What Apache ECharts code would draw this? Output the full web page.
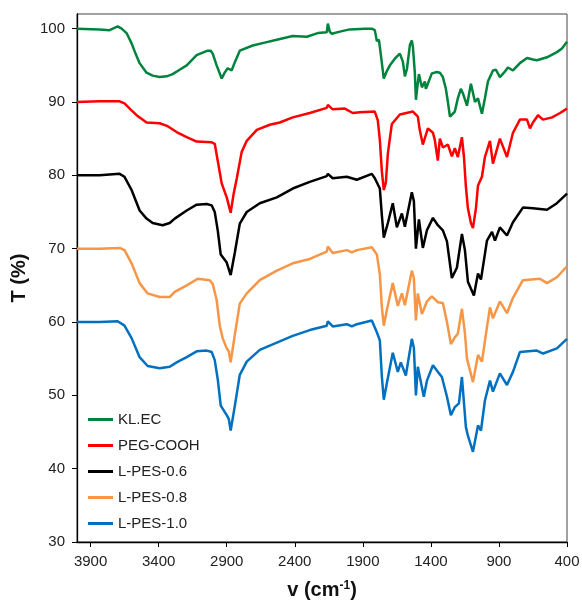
<!DOCTYPE html>
<html>
<head>
<meta charset="utf-8">
<script src="https://cdn.jsdelivr.net/npm/echarts@6/dist/echarts.min.js"></script>
<style>
  html, body { margin: 0; padding: 0; background: #fff; }
  #chart { width: 582px; height: 604px; }
</style>
</head>
<body>
<div id="chart"></div>
<script>
  // FTIR spectra, [wavenumber (cm-1), transmittance (%)]
  var seriesNames = ['KL.EC', 'PEG-COOH', 'L-PES-0.6', 'L-PES-0.8', 'L-PES-1.0'];
  var seriesColors = ['#00843d', '#ff0000', '#000000', '#f79646', '#0070c0'];

  var xTicks = [400, 900, 1400, 1900, 2400, 2900, 3400, 3900];
  var yTicks = [30, 40, 50, 60, 70, 80, 90, 100];

  var klec = [
    [4000,100.0],[3834,99.9],[3760,99.8],[3701,100.3],[3672,100.0],[3636,99.4],[3599,98.0],[3570,96.6],
    [3540,95.3],[3489,94.0],[3444,93.6],[3393,93.4],[3341,93.5],[3297,93.8],[3246,94.4],[3194,95.0],
    [3121,96.4],[3040,97.0],[3018,97.0],[3003,96.6],[2974,95.0],[2937,93.2],[2915,94.0],[2893,94.6],
    [2864,94.3],[2841,95.4],[2804,97.0],[2709,97.7],[2621,98.1],[2532,98.5],[2415,99.0],[2312,98.9],
    [2231,99.4],[2165,99.5],[2157,100.7],[2143,99.6],[2128,99.3],[2069,99.6],[1996,99.9],[1885,100.0],
    [1834,100.0],[1812,99.8],[1797,98.3],[1782,98.5],[1768,96.5],[1746,93.2],[1724,94.2],[1701,95.0],
    [1665,95.9],[1628,96.6],[1606,95.5],[1591,93.5],[1576,94.5],[1554,97.8],[1540,98.4],[1532,97.5],
    [1518,94.0],[1510,90.3],[1503,91.5],[1488,93.8],[1466,92.0],[1444,92.8],[1437,91.8],[1422,92.5],
    [1393,93.9],[1356,94.1],[1334,94.0],[1312,93.4],[1290,91.8],[1275,90.0],[1260,88.0],[1246,88.2],
    [1224,88.7],[1202,90.5],[1180,91.8],[1165,91.2],[1135,89.5],[1106,92.5],[1076,90.0],[1054,90.5],
    [1025,88.4],[1003,90.5],[981,92.8],[944,94.3],[922,94.4],[893,93.4],[863,94.0],[834,94.7],
    [797,94.3],[746,95.3],[694,96.0],[650,95.8],[621,95.7],[547,96.1],[474,96.8],[437,97.3],[400,98.2]
  ];

  var pegCooh = [
    [4000,90.0],[3834,90.1],[3687,90.1],[3651,89.8],[3607,89.0],[3562,88.2],[3489,87.2],[3393,87.1],
    [3334,86.7],[3268,85.9],[3194,85.2],[3121,84.6],[3010,84.5],[2988,84.3],[2966,82.0],[2937,78.9],
    [2900,77.0],[2871,74.9],[2849,77.5],[2827,79.5],[2790,83.2],[2753,84.7],[2679,86.2],[2584,86.9],
    [2510,87.2],[2415,87.9],[2290,88.5],[2165,89.2],[2157,89.6],[2121,89.0],[2032,89.1],[1974,88.5],
    [1922,88.6],[1812,88.7],[1790,87.5],[1775,84.8],[1760,80.5],[1746,78.0],[1731,79.0],[1716,83.0],
    [1687,87.0],[1628,88.3],[1532,88.7],[1496,88.0],[1481,86.1],[1459,84.2],[1422,86.4],[1385,85.8],
    [1371,84.8],[1349,82.0],[1334,85.0],[1312,83.8],[1275,84.2],[1246,82.6],[1224,83.7],[1202,82.5],
    [1172,85.2],[1157,82.5],[1143,78.5],[1128,75.5],[1106,73.5],[1091,72.8],[1069,75.5],[1054,78.6],
    [1025,79.8],[1003,82.5],[966,84.7],[944,81.6],[893,85.0],[841,82.5],[797,85.8],[746,87.6],
    [694,87.6],[672,86.4],[650,87.2],[613,88.2],[576,87.6],[510,87.9],[451,88.5],[400,89.1]
  ];

  var lpes06 = [
    [4000,80.0],[3834,80.0],[3687,80.2],[3651,79.8],[3599,78.0],[3540,75.2],[3489,74.1],[3444,73.5],
    [3371,73.2],[3319,73.5],[3282,74.1],[3194,75.2],[3121,76.0],[3047,76.1],[3010,75.9],[2988,75.0],
    [2966,72.5],[2944,69.2],[2900,68.1],[2871,66.4],[2841,69.4],[2804,73.4],[2753,75.0],[2657,76.2],
    [2532,77.0],[2415,78.2],[2290,79.1],[2165,79.9],[2157,80.2],[2121,79.6],[2018,79.8],[1944,79.4],
    [1834,80.2],[1812,79.6],[1775,78.2],[1760,74.5],[1746,71.5],[1716,73.5],[1680,76.2],[1650,72.9],
    [1613,74.8],[1591,73.0],[1540,77.7],[1525,76.5],[1510,70.0],[1488,74.0],[1459,70.1],[1429,72.5],
    [1385,74.2],[1349,73.2],[1312,72.5],[1282,71.0],[1246,66.0],[1209,67.4],[1172,72.0],[1150,69.8],
    [1128,65.5],[1084,63.6],[1054,66.6],[1032,65.8],[988,71.1],[951,72.3],[929,71.1],[893,72.9],
    [841,71.8],[797,73.6],[724,75.6],[650,75.5],[547,75.3],[474,76.2],[400,77.5]
  ];

  var lpes08 = [
    [4000,70.0],[3834,70.0],[3687,70.1],[3651,69.8],[3599,68.0],[3540,65.3],[3481,63.9],[3393,63.4],
    [3319,63.4],[3282,64.1],[3194,65.0],[3113,65.9],[3025,65.7],[3003,65.2],[2974,63.0],[2951,59.5],
    [2930,57.8],[2900,56.4],[2885,56.0],[2871,54.5],[2841,58.2],[2804,62.5],[2753,63.9],[2657,65.7],
    [2532,67.0],[2415,68.0],[2290,68.6],[2165,69.6],[2157,70.3],[2121,69.4],[2018,69.8],[1981,69.5],
    [1944,69.8],[1834,70.2],[1797,69.2],[1775,66.5],[1760,62.0],[1746,59.5],[1724,61.6],[1680,65.3],
    [1643,62.2],[1613,63.9],[1591,62.3],[1540,67.0],[1525,66.0],[1510,60.2],[1496,63.9],[1466,61.1],
    [1429,62.8],[1393,63.5],[1349,62.7],[1312,62.6],[1282,60.0],[1253,57.0],[1224,57.9],[1202,58.4],
    [1172,61.8],[1150,58.5],[1135,55.0],[1091,51.8],[1054,55.5],[1025,54.6],[988,59.3],[966,62.0],
    [944,60.5],[893,62.8],[841,61.2],[797,63.3],[724,65.7],[599,65.9],[547,65.3],[474,66.1],[400,67.6]
  ];

  var lpes10 = [
    [4000,60.0],[3834,60.0],[3701,60.1],[3651,59.5],[3599,57.8],[3540,55.2],[3481,54.0],[3393,53.7],
    [3319,53.9],[3268,54.5],[3194,55.2],[3121,56.0],[3047,56.1],[3010,55.9],[2988,54.8],[2966,52.2],
    [2944,48.6],[2900,47.3],[2885,46.8],[2871,45.2],[2841,48.5],[2804,52.8],[2753,54.6],[2657,56.2],
    [2532,57.2],[2415,58.1],[2290,58.9],[2165,59.5],[2157,60.1],[2121,59.4],[2018,59.7],[1981,59.4],
    [1944,59.7],[1834,60.2],[1797,58.6],[1775,57.5],[1760,52.5],[1746,49.4],[1724,51.6],[1680,55.8],
    [1643,53.2],[1621,54.5],[1584,52.7],[1540,57.7],[1525,56.5],[1510,50.0],[1496,53.9],[1452,49.8],
    [1429,52.0],[1385,54.1],[1349,53.2],[1319,52.5],[1282,49.8],[1253,47.3],[1224,48.4],[1194,48.9],
    [1172,52.5],[1143,45.7],[1128,44.5],[1091,42.3],[1054,45.9],[1032,45.2],[1003,49.3],[966,52.0],
    [944,50.5],[893,53.0],[841,51.4],[797,53.2],[746,55.9],[621,56.1],[576,55.7],[474,56.4],[400,57.7]
  ];

  var seriesData = [klec, pegCooh, lpes06, lpes08, lpes10];

  var chart = echarts.init(document.getElementById('chart'));

  var labelFont = { fontFamily: 'Liberation Sans, Arial, sans-serif', fontSize: 15, color: '#222' };

  var series = seriesNames.map(function (name, i) {
    return {
      name: name,
      type: 'line',
      data: seriesData[i],
      symbol: 'none',
      smooth: false,
      animation: false,
      lineStyle: { color: seriesColors[i], width: 2.5 },
      itemStyle: { color: seriesColors[i] }
    };
  });

  chart.setOption({
    animation: false,
    backgroundColor: '#fff',
    grid: {
      left: 77, right: 15, top: 14, bottom: 62,
      outerBoundsMode: 'none',
      show: true, borderColor: '#444', borderWidth: 1
    },
    legend: {
      orient: 'vertical',
      left: 88,
      top: 412,
      padding: 0,
      icon: 'path://M0,0h25v3h-25z',
      itemWidth: 25,
      itemHeight: 3,
      itemGap: 11,
      data: seriesNames,
      textStyle: labelFont
    },
    xAxis: {
      type: 'value',
      inverse: true,
      min: 400,
      max: 4000,
      name: 'v (cm{sup|-1})',
      nameLocation: 'middle',
      nameGap: 38,
      nameTextStyle: {
        fontFamily: 'Liberation Sans, Arial, sans-serif',
        fontSize: 20, fontWeight: 'bold', color: '#111',
        rich: {
          sup: { fontSize: 12, fontWeight: 'bold', verticalAlign: 'top', padding: [0, 0, 8, 0],
                 fontFamily: 'Liberation Sans, Arial, sans-serif', color: '#111' }
        }
      },
      splitLine: { show: false },
      axisLine: { lineStyle: { color: '#000', width: 1.3 } },
      axisTick: { length: 5, lineStyle: { color: '#000' }, customValues: xTicks },
      axisLabel: Object.assign({
        margin: 12,
        customValues: xTicks,
        formatter: function (v) { return String(v); }
      }, labelFont)
    },
    yAxis: {
      type: 'value',
      min: 30,
      max: 102,
      name: 'T (%)',
      nameLocation: 'middle',
      nameGap: 37,
      nameTextStyle: {
        fontFamily: 'Liberation Sans, Arial, sans-serif',
        fontSize: 20, fontWeight: 'bold', color: '#111'
      },
      splitLine: { show: false },
      axisLine: { show: true, lineStyle: { color: '#000', width: 1.3 } },
      axisTick: { show: true, length: 5, lineStyle: { color: '#000' }, customValues: yTicks },
      axisLabel: Object.assign({
        margin: 12,
        customValues: yTicks,
        formatter: function (v) { return String(v); }
      }, labelFont)
    },
    series: series
  });
</script>
</body>
</html>
